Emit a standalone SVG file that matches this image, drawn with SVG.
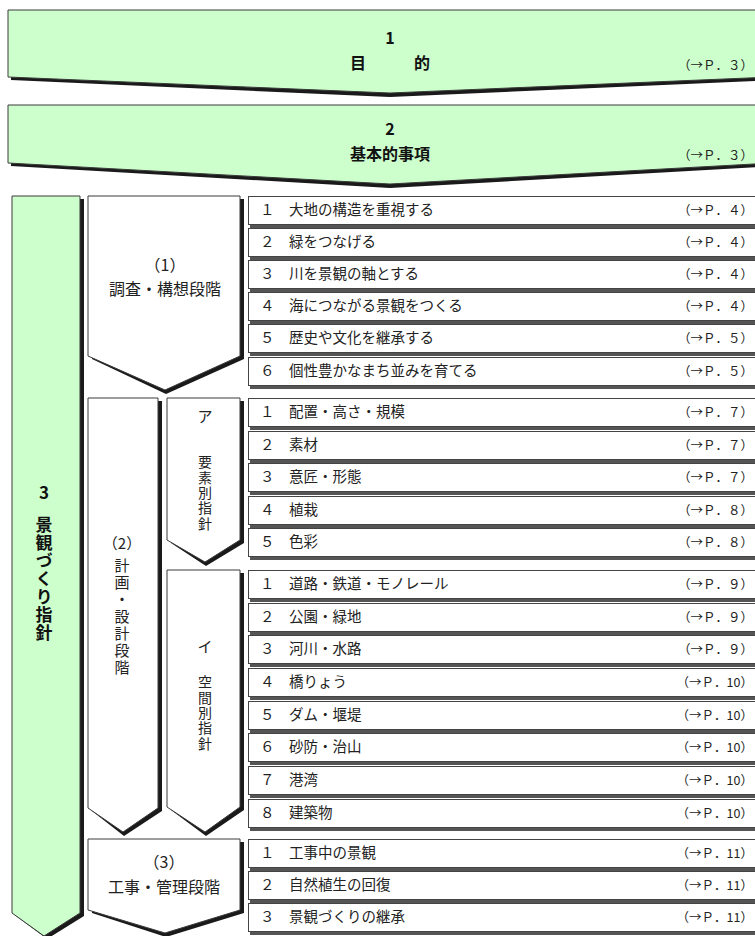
<svg xmlns="http://www.w3.org/2000/svg" width="755" height="936" viewBox="0 0 755 936">
<style>
.sh{fill:#1a1a1a}
.gr{fill:#ccffcc;stroke:#3a3a3a;stroke-width:1}
.wb{fill:#ffffff;stroke:#3a3a3a;stroke-width:1}
.rsh{fill:#555555}
.row{fill:#ffffff;stroke:#444444;stroke-width:1}
text{font-family:"Noto Sans CJK JP","Noto Sans",sans-serif;fill:#222222}
.b{font-weight:bold;font-size:16px;text-anchor:middle;fill:#111111}
.bv{font-weight:bold;font-size:17px;fill:#111111}
.bt{font-size:15px;text-anchor:middle}
.v{writing-mode:vertical-rl;text-orientation:upright;text-anchor:start}
.lb{font-size:14.5px}
.ref{font-size:12.5px;text-anchor:end}
</style>
<defs>
<g id="rowshape">
<rect class="rsh" x="250" y="3" width="520" height="29"/>
<rect class="row" x="248.5" y="0.5" width="520" height="28"/>
</g>
</defs>
<rect width="755" height="936" fill="#ffffff"/>

<g id="banner1">
<polygon class="sh" points="11,13 775,13 775,80 390,97 11,80"/>
<polygon class="gr" points="8,10 772,10 772,77 390,93 8,77"/>
<text class="b" x="390" y="44">1</text>
<text class="b" x="390" y="69">目　　　的</text>
<text class="ref" x="753" y="70">（→Ｐ．３）</text>
</g>

<g id="banner2">
<polygon class="sh" points="11,108 775,108 775,166 390,188 11,166"/>
<polygon class="gr" points="8,105 772,105 772,163 390,184 8,163"/>
<text class="b" x="390" y="135">2</text>
<text class="b" x="390" y="160">基本的事項</text>
<text class="ref" x="753" y="160">（→Ｐ．３）</text>
</g>

<g id="guideline">
<polygon class="sh" points="16,199 84,199 84,916 47,939 16,916"/>
<polygon class="gr" points="12,196 80,196 80,913 44,936 12,913"/>
<text class="bv" x="44" y="499" text-anchor="middle">3</text>
<text class="bv v" x="44" y="516" style="letter-spacing:1px">景観づくり指針</text>
</g>

<g id="stage1">
<polygon class="sh" points="92,199 244,199 244,359 166,394 92,359"/>
<polygon class="wb" points="88,196 240,196 240,356 165,390 88,356"/>
<text class="bt" x="165" y="271" style="font-size:16px">（1）</text>
<text class="bt" x="165" y="295" style="font-size:16px">調査・構想段階</text>
</g>

<g id="stage2">
<polygon class="sh" points="92,401 162,401 162,811 124,836 92,811"/>
<polygon class="wb" points="88,398 158,398 158,808 123,832 88,808"/>
<text class="bt" x="122" y="549">（2）</text>
<text class="v" x="122" y="557.5" style="font-size:15px;letter-spacing:2px">計画・設計段階</text>
</g>

<g id="stageA">
<polygon class="sh" points="171,401 244,401 244,543 206,566 171,543"/>
<polygon class="wb" points="167,398 240,398 240,540 205,562 167,540"/>
<text class="bt" x="205" y="422">ア</text>
<text class="v" x="205" y="455" style="font-size:14px;letter-spacing:1.3px">要素別指針</text>
</g>

<g id="stageI">
<polygon class="sh" points="171,573 244,573 244,810 206,836 171,810"/>
<polygon class="wb" points="167,570 240,570 240,807 205,832 167,807"/>
<text class="bt" x="205" y="652">イ</text>
<text class="v" x="205" y="675" style="font-size:14px;letter-spacing:1.3px">空間別指針</text>
</g>

<g id="stage3">
<polygon class="sh" points="92,842 244,842 244,913 166,937 92,913"/>
<polygon class="wb" points="88,839 240,839 240,910 165,933 88,910"/>
<text class="bt" x="164" y="868" style="font-size:16px">（3）</text>
<text class="bt" x="164" y="893" style="font-size:16px">工事・管理段階</text>
</g>

<g id="rows1">
<g id="r1-1"><use href="#rowshape" y="196"/><text class="lb" x="260" y="215">１　大地の構造を重視する</text><text class="ref" x="753" y="215">（→Ｐ．４）</text></g>
<g id="r1-2"><use href="#rowshape" y="228"/><text class="lb" x="260" y="247">２　緑をつなげる</text><text class="ref" x="753" y="247">（→Ｐ．４）</text></g>
<g id="r1-3"><use href="#rowshape" y="260"/><text class="lb" x="260" y="279">３　川を景観の軸とする</text><text class="ref" x="753" y="279">（→Ｐ．４）</text></g>
<g id="r1-4"><use href="#rowshape" y="292"/><text class="lb" x="260" y="311">４　海につながる景観をつくる</text><text class="ref" x="753" y="311">（→Ｐ．４）</text></g>
<g id="r1-5"><use href="#rowshape" y="324"/><text class="lb" x="260" y="343">５　歴史や文化を継承する</text><text class="ref" x="753" y="343">（→Ｐ．５）</text></g>
<g id="r1-6"><use href="#rowshape" y="357"/><text class="lb" x="260" y="376">６　個性豊かなまち並みを育てる</text><text class="ref" x="753" y="376">（→Ｐ．５）</text></g>
</g>

<g id="rowsA">
<g id="rA-1"><use href="#rowshape" y="398"/><text class="lb" x="260" y="417">１　配置・高さ・規模</text><text class="ref" x="753" y="417">（→Ｐ．７）</text></g>
<g id="rA-2"><use href="#rowshape" y="431"/><text class="lb" x="260" y="450">２　素材</text><text class="ref" x="753" y="450">（→Ｐ．７）</text></g>
<g id="rA-3"><use href="#rowshape" y="463"/><text class="lb" x="260" y="482">３　意匠・形態</text><text class="ref" x="753" y="482">（→Ｐ．７）</text></g>
<g id="rA-4"><use href="#rowshape" y="496"/><text class="lb" x="260" y="515">４　植栽</text><text class="ref" x="753" y="515">（→Ｐ．８）</text></g>
<g id="rA-5"><use href="#rowshape" y="528"/><text class="lb" x="260" y="547">５　色彩</text><text class="ref" x="753" y="547">（→Ｐ．８）</text></g>
</g>

<g id="rowsI">
<g id="rI-1"><use href="#rowshape" y="570"/><text class="lb" x="260" y="589">１　道路・鉄道・モノレール</text><text class="ref" x="753" y="589">（→Ｐ．９）</text></g>
<g id="rI-2"><use href="#rowshape" y="603"/><text class="lb" x="260" y="622">２　公園・緑地</text><text class="ref" x="753" y="622">（→Ｐ．９）</text></g>
<g id="rI-3"><use href="#rowshape" y="635"/><text class="lb" x="260" y="654">３　河川・水路</text><text class="ref" x="753" y="654">（→Ｐ．９）</text></g>
<g id="rI-4"><use href="#rowshape" y="668"/><text class="lb" x="260" y="687">４　橋りょう</text><text class="ref" x="753" y="687">（→Ｐ．10）</text></g>
<g id="rI-5"><use href="#rowshape" y="701"/><text class="lb" x="260" y="720">５　ダム・堰堤</text><text class="ref" x="753" y="720">（→Ｐ．10）</text></g>
<g id="rI-6"><use href="#rowshape" y="733"/><text class="lb" x="260" y="752">６　砂防・治山</text><text class="ref" x="753" y="752">（→Ｐ．10）</text></g>
<g id="rI-7"><use href="#rowshape" y="766"/><text class="lb" x="260" y="785">７　港湾</text><text class="ref" x="753" y="785">（→Ｐ．10）</text></g>
<g id="rI-8"><use href="#rowshape" y="799"/><text class="lb" x="260" y="818">８　建築物</text><text class="ref" x="753" y="818">（→Ｐ．10）</text></g>
</g>

<g id="rows3">
<g id="r3-1"><use href="#rowshape" y="839"/><text class="lb" x="260" y="858">１　工事中の景観</text><text class="ref" x="753" y="858">（→Ｐ．11）</text></g>
<g id="r3-2"><use href="#rowshape" y="871"/><text class="lb" x="260" y="890">２　自然植生の回復</text><text class="ref" x="753" y="890">（→Ｐ．11）</text></g>
<g id="r3-3"><use href="#rowshape" y="903"/><text class="lb" x="260" y="922">３　景観づくりの継承</text><text class="ref" x="753" y="922">（→Ｐ．11）</text></g>
</g>

<g id="connectors"/>
</svg>
